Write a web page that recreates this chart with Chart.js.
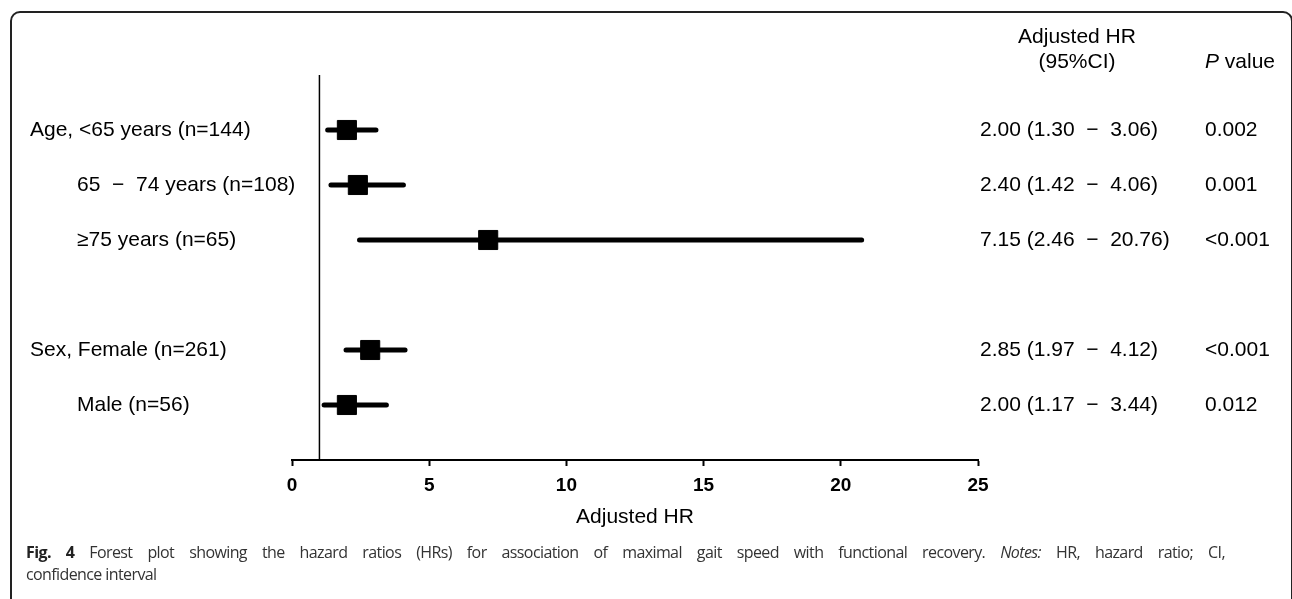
<!DOCTYPE html>
<html>
<head>
<meta charset="utf-8">
<script src="https://cdn.jsdelivr.net/npm/chart.js@4.4.1/dist/chart.umd.min.js"></script>
<style>
  body { margin: 0; background: #fff; }
  #wrap { position: relative; width: 1292px; height: 599px; overflow: hidden; }
  #frame { position: absolute; left: 10px; top: 11px; width: 1279px; height: 700px;
           border: 2px solid #222; border-radius: 10px; }
  canvas { position: absolute; left: 0; top: 0; }
  #caption { position: absolute; left: 26px; top: 541px; font-family: 'Open Sans', sans-serif;
             font-size: 16px; letter-spacing: -0.6px; line-height: 22px; color: #333; white-space: nowrap; }
  #caption .line1 { width: 1199px; text-align: justify; text-align-last: justify; white-space: normal; }
  #caption b { color: #222; }
</style>
</head>
<body>
<div id="wrap">
  <div id="frame"></div>
  <canvas id="myChart" width="1292" height="599"></canvas>
  <div id="caption">
    <div class="line1"><b>Fig. 4</b> Forest plot showing the hazard ratios (HRs) for association of maximal gait speed with functional recovery. <i>Notes:</i> HR, hazard ratio; CI,</div>
    <div>confidence interval</div>
  </div>
</div>
<script>
'use strict';

let groups = ['Age', 'Age', 'Age', 'Sex', 'Sex'];
let labels = ['Age, <65 years (n=144)', '65  \u2212  74 years (n=108)', '\u226575 years (n=65)', 'Sex, Female (n=261)', 'Male (n=56)'];
let hr = [2.00, 2.40, 7.15, 2.85, 2.00];
let lower = [1.30, 1.42, 2.46, 1.97, 1.17];
let upper = [3.06, 4.06, 20.76, 4.12, 3.44];
let pValues = ['0.002', '0.001', '<0.001', '<0.001', '0.012'];
let xTicks = [0, 5, 10, 15, 20, 25];
let refValue = 1;

// row numbers: one blank row between groups
let rows = [];
let row = 0;
for (let i = 0; i < groups.length; i++) {
    if (i > 0 && groups[i] !== groups[i - 1]) row++;
    row++;
    rows.push(row);
}
let yMax = row + 1;

function fmt(v) {
    return v.toFixed(2);
}

let datasets = [];

// reference line at HR = 1
datasets.push({
    data: [{ x: refValue, y: 0 }, { x: refValue, y: yMax }],
    showLine: true,
    borderColor: '#000',
    borderWidth: 1.5,
    pointRadius: 0
});

for (let i = 0; i < labels.length; i++) {
    datasets.push({
        data: [{ x: lower[i], y: rows[i] }, { x: upper[i], y: rows[i] }],
        showLine: true,
        borderColor: '#000',
        borderWidth: 5,
        borderCapStyle: 'round',
        pointRadius: 0
    });
}

datasets.push({
    data: hr.map(function (v, i) { return { x: v, y: rows[i] }; }),
    pointStyle: 'rect',
    pointRadius: 13.5,
    backgroundColor: '#000',
    borderColor: '#000',
    borderWidth: 1
});

let textPlugin = {
    id: 'forestText',
    afterDraw: function (chart) {
        let ctx = chart.ctx;
        let yScale = chart.scales.y;
        let area = chart.chartArea;
        let hrX = area.right + 2;
        let pX = 1205;
        ctx.save();
        ctx.fillStyle = '#000';
        ctx.textBaseline = 'middle';
        ctx.font = '21px "Liberation Sans", Arial, sans-serif';

        // headers
        ctx.textAlign = 'center';
        ctx.fillText('Adjusted HR', 1077, 37);
        ctx.fillText('(95%CI)', 1077, 62);
        ctx.textAlign = 'left';
        ctx.font = 'italic 21px "Liberation Sans", Arial, sans-serif';
        ctx.fillText('P', pX, 62);
        let pw = ctx.measureText('P').width;
        ctx.font = '21px "Liberation Sans", Arial, sans-serif';
        ctx.fillText(' value', pX + pw, 62);

        for (let i = 0; i < labels.length; i++) {
            let y = yScale.getPixelForValue(rows[i]);
            let first = i === 0 || groups[i] !== groups[i - 1];
            ctx.fillText(labels[i], first ? 30 : 77, y);
            ctx.fillText(fmt(hr[i]) + ' (' + fmt(lower[i]) + '  \u2212  ' + fmt(upper[i]) + ')', hrX, y);
            ctx.fillText(pValues[i], pX, y);
        }
        ctx.restore();
    }
};

let ctx = document.getElementById('myChart').getContext('2d');
let myChart = new Chart(ctx, {
    type: 'scatter',
    data: { datasets: datasets },
    options: {
        responsive: false,
        animation: false,
        layout: { padding: { left: 292, right: 314, top: 75, bottom: 65 } },
        plugins: { legend: { display: false }, tooltip: { enabled: false } },
        scales: {
            x: {
                type: 'linear',
                min: xTicks[0],
                max: xTicks[xTicks.length - 1],
                afterBuildTicks: function (scale) {
                    scale.ticks = xTicks.map(function (v) { return { value: v }; });
                },
                afterFit: function (scale) { scale.height = 74; },
                ticks: {
                    color: '#000',
                    padding: 8,
                    font: { family: '"Liberation Sans", Arial, sans-serif', size: 19, weight: 'bold' }
                },
                grid: { drawOnChartArea: false, drawTicks: true, tickLength: 6, tickColor: '#000', tickWidth: 2 },
                border: { display: true, color: '#000', width: 2 },
                title: {
                    display: true,
                    text: 'Adjusted HR',
                    color: '#000',
                    font: { family: '"Liberation Sans", Arial, sans-serif', size: 21 }
                }
            },
            y: {
                type: 'linear',
                min: 0,
                max: yMax,
                reverse: true,
                display: false
            }
        }
    },
    plugins: [textPlugin]
});
</script>
</body>
</html>
